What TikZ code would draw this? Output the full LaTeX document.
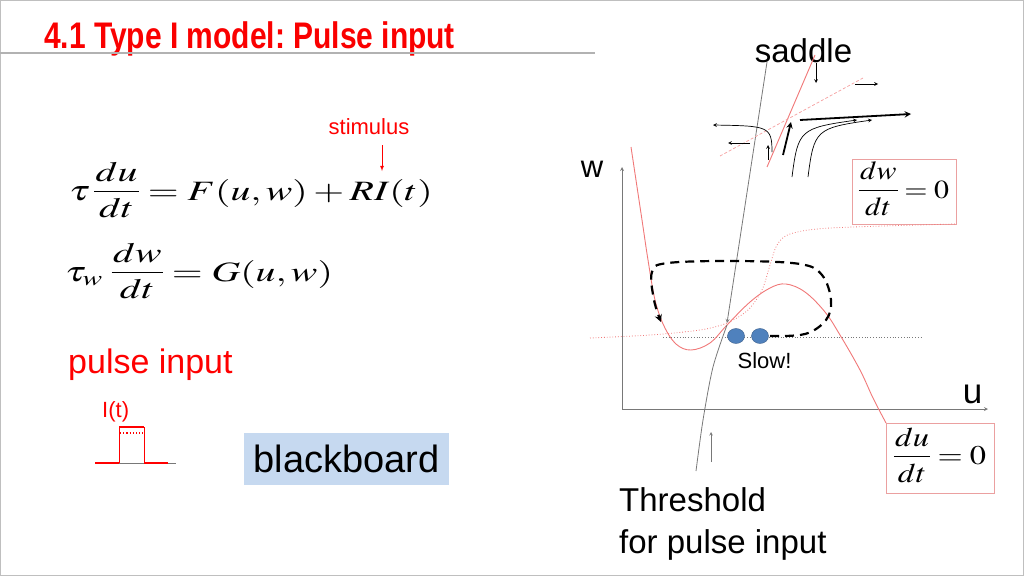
\documentclass[tikz,border=0pt]{standalone}
\usepackage{mathptmx}
\usepackage{fontspec}
\setmainfont{Liberation Sans}
\usepackage{graphicx}
\definecolor{nullred}{RGB}{240,120,120}
\definecolor{boxred}{RGB}{235,160,160}
\definecolor{blobblue}{RGB}{79,129,189}
\definecolor{blobedge}{RGB}{56,93,138}
\definecolor{bbblue}{RGB}{198,217,240}
\definecolor{axisgray}{RGB}{120,120,120}
\definecolor{titlered}{RGB}{250,0,0}
\newcommand\fsz[1]{\fontsize{#1}{#1}\selectfont}
\newcommand\eqn[2][1.42]{\scalebox{#1}[1]{$#2$}}
\newcommand\vfrac[2]{{\renewcommand\arraystretch{0.75}%
  \begin{array}{@{\hspace{1pt}}c@{\hspace{1pt}}}#1\\[4pt]\hline\noalign{\vskip 7pt}#2\end{array}}}
\frenchspacing

\begin{document}
\begin{tikzpicture}[x=1pt,y=-1pt]
\tikzstyle{every node}=[inner sep=0pt]
\tikzstyle{lbl}=[anchor=base]
\tikzstyle{nullc}=[draw=nullred, line width=0.9pt]
\tikzstyle{flow}=[->, >=stealth, line width=0.7pt]
\tikzstyle{bigflow}=[->, >=stealth, line width=1.8pt]
\tikzstyle{eqbox}=[draw=boxred, line width=0.8pt]
\useasboundingbox (0,0) rectangle (1024,576);
\draw[gray!50] (0.5,0.5) rectangle (1023.5,575.5);

\node[anchor=base west, text=titlered, font=\fsz{37}\bfseries] (title) at (44,48)
  {\scalebox{0.81}[1]{4.1 Type I model: Pulse input}};
\draw[gray!60, line width=2pt] (0,53) -- (595,53);

\node[lbl, text=red, font=\fsz{22}] (stimulus) at (369,134) {stimulus};
\node[lbl, font=\fsz{28}] (equ) at (251,200)
  {\eqn{\tau\,\vfrac{du}{dt}=F(u,w)+RI(t)}};
\node[lbl, font=\fsz{28}] (eqw) at (199,281)
  {\eqn{\tau_w\;\vfrac{dw}{dt}=G(u,w)}};
\coordinate (stimtop) at (382,145);
\coordinate (ri) at (382,171);
\draw[red, ->, >=latex, line width=0.8pt] (stimtop) -- (ri);

\node[anchor=base west, text=red, font=\fsz{34}] (pulse) at (68,373) {pulse input};
\node[anchor=base west, text=red, font=\fsz{22}] (it) at (102,417) {I(t)};
\draw[axisgray, line width=0.8pt] (119,463) -- (176,463);
\draw[red, line width=2.5pt] (95,463) -- (119,463) (144,463) -- (168,463) (119,427) -- (144,427);
\draw[red, line width=0.8pt] (119,463) -- (119,427) (144,427) -- (144,463);
\draw[red, line width=1.2pt, dotted] (120,433) -- (143,433);

\node[fill=bbblue, minimum width=205pt, minimum height=52pt, font=\fsz{38}] (board) at (346.5,459) {blackboard};

\draw[axisgray, ->, >=stealth, line width=0.8pt] (622,409) -- (622,167);
\draw[axisgray, ->, >=stealth, line width=0.8pt] (622,409) -- (988,409);
\node[lbl, font=\fsz{31}] (wlabel) at (592,177) {w};
\node[lbl, font=\fsz{35}] (ulabel) at (972.5,403) {u};
\node[lbl, font=\fsz{33}] (saddle) at (803.5,62) {saddle};
\node[lbl, font=\fsz{22}] (slow) at (764.5,368) {Slow!};
\node[anchor=base west, align=left, font=\fontsize{33}{42}\selectfont] (thresh) at (619,553)
  {Threshold\\for pulse input};

\node[eqbox, minimum width=104pt, minimum height=65pt, font=\fsz{26}] (wnull) at (904,191.5)
  {\eqn[1.15]{\vfrac{dw}{dt}=0}};
\node[eqbox, minimum width=108pt, minimum height=70pt, font=\fsz{27}] (unull) at (940,458)
  {\eqn[1.2]{\vfrac{du}{dt}=0}};

\draw[nullred, line width=0.8pt, dotted] plot[smooth] coordinates
  {(590,338) (650,335) (700,330) (727,323) (748,310) (762,290) (770,265) (777,245) (790,234) (830,228) (955,224)};
\draw[axisgray, line width=0.8pt, dotted] (663,337) -- (922,337);
\draw[nullc] plot[smooth, tension=0.6] coordinates
  {(631,147) (642,220) (648,260) (655,300) (664,326) (676,344) (691,350) (710,343) (727,325)
   (750,302) (770,288) (786,284) (805,292) (825,312) (840,335) (860,370) (873,398) (886,423)};
\coordinate (fixed) at (727,323);
\draw[axisgray, ->, >=stealth, line width=0.8pt] (767,62) -- (fixed);
\draw[axisgray, line width=0.8pt] plot[smooth] coordinates {(696,471) (703,420) (713,367) (727,325)};
\draw[axisgray, ->, >=stealth, line width=0.6pt] (711,462) -- (711,432);

\draw[black, line width=2.2pt, dash pattern=on 9pt off 6pt, ->, >=stealth] plot[smooth, tension=0.6] coordinates
  {(770,336) (805,334) (826,320) (831,300) (822,275) (800,264) (737,261) (668,263) (652,272) (654,300) (661,322)};
\draw[fill=blobblue, draw=blobedge] (736,336) ellipse (8.5 and 7.5);
\draw[fill=blobblue, draw=blobedge] (760,336) ellipse (8.5 and 7.5);

\draw[nullred, line width=0.9pt] (767,167) -- (815,55);
\draw[nullred!70, line width=0.7pt, dash pattern=on 3pt off 2pt] (720,156) -- (863,78);
\draw[flow] (816,63) -- (816,83);
\draw[flow] (855,84) -- (878,84);
\draw[bigflow] (800,120) -- (911,114);
\draw[bigflow] (783,155) -- (791,122);
\draw[flow] (772,152) .. controls (772,126) and (768,126) .. (713,125);
\draw[flow] (750,143) -- (728,143);
\draw[flow] (768,160) -- (768,145);
\draw[flow] (792,177) .. controls (798,130) and (800,128) .. (857,120);
\draw[flow] (808,177) .. controls (814,130) and (816,128) .. (872,120);
\end{tikzpicture}
\end{document}
